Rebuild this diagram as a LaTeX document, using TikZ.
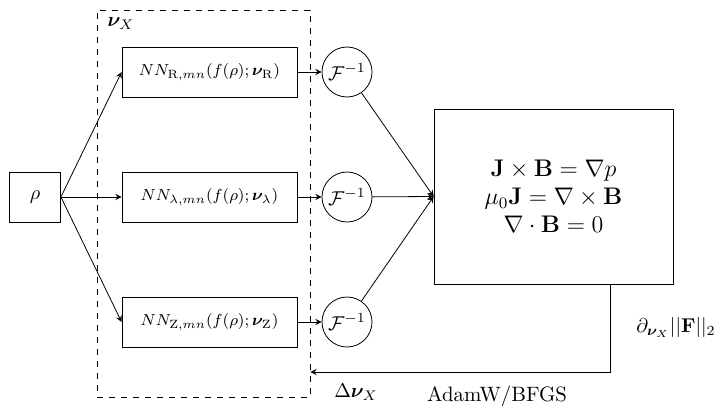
\documentclass[tikz,border=0pt]{standalone}
\usepackage{amsmath,amssymb,bm}
\usetikzlibrary{arrows,positioning}

\begin{document}
\begin{tikzpicture}[x=0.5pt,y=-0.5pt,>=stealth]
    \tikzset{box/.style={draw,rectangle,inner sep=0pt},
             netbox/.style={box,minimum width=87.5pt,minimum height=25pt,font=\fontsize{8.3pt}{10pt}\selectfont},
             ift/.style={draw,circle,minimum size=25pt,inner sep=0pt}}
    \useasboundingbox (0,0) rectangle (726,407);
    % input
    \node[box,minimum width=25.5pt,minimum height=25pt] (rho) at (35,197) {$\rho$};
    % parameters
    \node[box,dashed,minimum width=106.5pt,minimum height=193.5pt] (params) at (203.5,203.5) {};
    \node (nuX) at (121,24) {$\bm{\nu}_X$};
    \node[netbox] (nnR) at (209.5,72) {$NN_{\mathrm{R},mn}(f(\rho);\bm{\nu}_{\mathrm{R}})$};
    \node[netbox] (nnL) at (209.5,197) {$NN_{\lambda,mn}(f(\rho);\bm{\nu}_{\lambda})$};
    \node[netbox] (nnZ) at (209.5,322) {$NN_{\mathrm{Z},mn}(f(\rho);\bm{\nu}_{\mathrm{Z}})$};
    %
    \node[ift] (iR) at (347,72) {$\mathcal{F}^{-1}$};
    \node[ift] (iL) at (347,197) {$\mathcal{F}^{-1}$};
    \node[ift] (iZ) at (347,322) {$\mathcal{F}^{-1}$};
    % equilibrium
    \node[box,minimum width=119.5pt,minimum height=87.5pt,font=\large,align=center] (eqs) at (553.5,196.5)
        {$\mathbf{J}\times\mathbf{B}=\nabla p$\\ $\mu_0\mathbf{J}=\nabla\times\mathbf{B}$\\ $\nabla\cdot\mathbf{B}=0$};
    %%
    \draw[->] (rho.east) -- (nnR.west);
    \draw[->] (rho.east) -- (nnL.west);
    \draw[->] (rho.east) -- (nnZ.west);
    \draw[->] (nnR.east) -- (iR.west);
    \draw[->] (nnL.east) -- (iL.west);
    \draw[->] (nnZ.east) -- (iZ.west);
    \draw[->] (iR) -- (eqs.west);
    \draw[->] (iL) -- (eqs.west);
    \draw[->] (iZ) -- (eqs.west);
    % feedback
    \coordinate (corner) at (610,372);
    \draw[->] (eqs.south -| corner) -- (corner) -- (params.east |- corner);
    \node (grad) at (676,327) {$\partial_{\bm{\nu}_X}||\mathbf{F}||_2$};
    \node[font=\fontsize{10.4pt}{12pt}\selectfont] (opt) at (497,396) {AdamW/BFGS};
    \node (dnu) at (356,392) {$\Delta\bm{\nu}_X$};
\end{tikzpicture}
\end{document}
